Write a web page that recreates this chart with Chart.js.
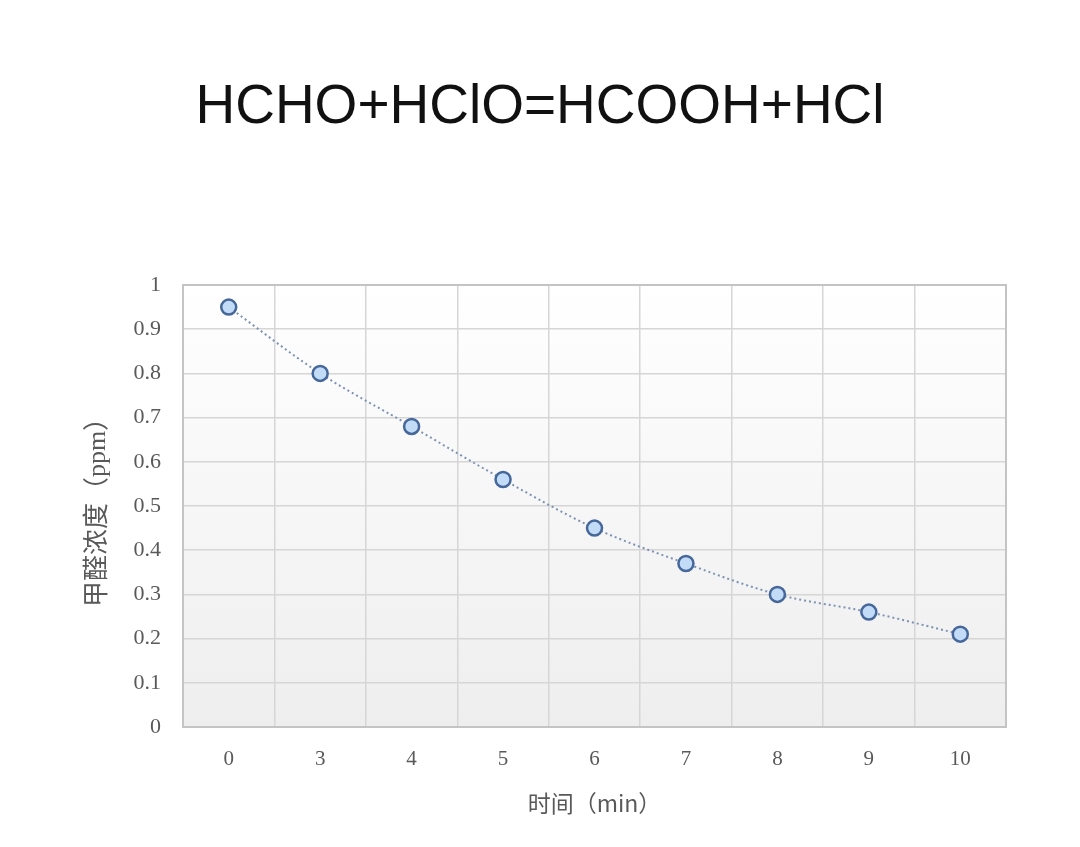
<!DOCTYPE html>
<html><head><meta charset="utf-8">
<script src="https://cdn.jsdelivr.net/npm/chart.js@4.4.1/dist/chart.umd.min.js"></script>
<style>html,body{margin:0;padding:0;background:#fff}#wrap{width:1080px;height:847px}</style>
</head><body><div id="wrap"><canvas id="c" width="1080" height="847"></canvas></div>
<script>
const categories = ['0','3','4','5','6','7','8','9','10'];
const concentration = [0.95, 0.80, 0.68, 0.56, 0.45, 0.37, 0.30, 0.26, 0.21];
const titleText = 'HCHO+HClO=HCOOH+HCl';
const xTitle = '时间（min）';
const yTitle = '甲醛浓度（ppm）';

const bgPlugin = {
  id: 'bg',
  beforeDraw(chart) {
    const {ctx, chartArea: a} = chart;
    const g = ctx.createLinearGradient(0, a.top, 0, a.bottom);
    g.addColorStop(0, '#ffffff');
    g.addColorStop(1, '#eeeeee');
    ctx.save(); ctx.fillStyle = g; ctx.fillRect(a.left, a.top, a.right - a.left, a.bottom - a.top); ctx.restore();
  }
};

const titlePlugin = {
  id: 'bigTitle',
  afterDraw(chart) {
    const ctx = chart.ctx;
    ctx.save();
    ctx.fillStyle = '#111';
    ctx.font = 'normal 55px "Liberation Sans", Arial, sans-serif';
    ctx.textAlign = 'center'; ctx.textBaseline = 'alphabetic';
    ctx.fillText(titleText, 540, 123);
    ctx.restore();
  }
};

new Chart(document.getElementById('c'), {
  type: 'line',
  data: { labels: categories, datasets: [{
    data: concentration,
    borderColor: '#7d93b3', borderWidth: 2, borderDash: [2, 3],
    tension: 0.4, cubicInterpolationMode: 'monotone',
    pointRadius: 7.5, pointBorderWidth: 2.5,
    pointBackgroundColor: '#c2dcf8', pointBorderColor: '#46679a',
    fill: false
  }]},
  options: {
    responsive: false, animation: false,
    layout: { padding: { left: 0, right: 74, top: 285, bottom: 30 } },
    plugins: {
      legend: { display: false }, tooltip: { enabled: false }, title: { display: false }
    },
    scales: {
      x: {
        offset: true,
        grid: { color: '#d6d6d6', lineWidth: 1.5, drawTicks: false, offset: true },
        border: { color: '#bdbdbd', width: 2 },
        ticks: { color: '#595959', padding: 20, font: { family: 'Liberation Serif, serif', size: 21 } },
        title: { display: true, text: xTitle, color: '#595959', padding: { top: 12, bottom: 0 },
          font: { family: 'Noto Sans CJK SC, sans-serif', size: 23 } },
        afterFit(s) { s.height = 90; }
      },
      y: {
        min: 0, max: 1,
        grid: { color: '#d6d6d6', lineWidth: 1.5, drawTicks: false },
        border: { color: '#bdbdbd', width: 2 },
        ticks: { stepSize: 0.1, color: '#595959', padding: 22,
          font: { family: 'Liberation Serif, serif', size: 22 },
          callback: v => Math.round(v * 10) / 10 + '' },
        title: { display: true, text: yTitle, color: '#595959', padding: { top: 83, bottom: 0 },
          font: { family: 'Liberation Serif, Noto Sans CJK SC, serif', size: 26 } },
        afterFit(s) { s.width = 183; }
      }
    }
  },
  plugins: [bgPlugin, titlePlugin, {
    id: 'frame',
    afterDraw(chart) {
      const {ctx, chartArea: a} = chart;
      ctx.save(); ctx.strokeStyle = '#c4c4c4'; ctx.lineWidth = 2;
      ctx.strokeRect(a.left, a.top, a.right - a.left, a.bottom - a.top); ctx.restore();
    }
  }]
});
</script></body></html>
